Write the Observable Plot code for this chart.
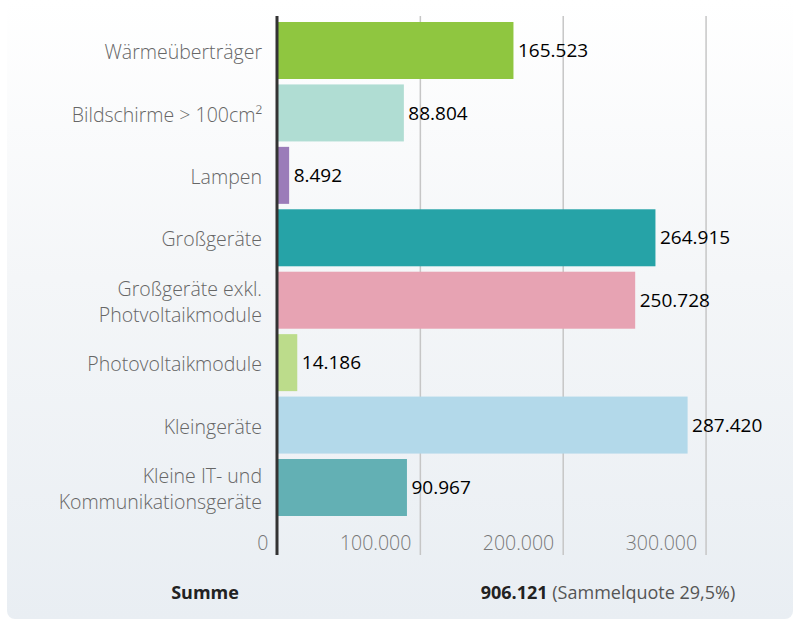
<!DOCTYPE html>
<html>
<head>
<meta charset="utf-8">
<script src="https://cdn.jsdelivr.net/npm/d3@7"></script>
<script src="https://cdn.jsdelivr.net/npm/@observablehq/plot@0.6"></script>
<style>
  body { margin: 0; background: #fff; font-family: "Open Sans", sans-serif; }
  #wrap { position: relative; width: 800px; height: 621px; }
  #bg { position: absolute; left: 7px; right: 7px; top: 0; bottom: 2px; border-radius: 0 0 8px 8px;
        background: linear-gradient(to bottom, #ffffff 0%, #f4f6f8 45%, #e9eef3 100%); }
  #chart { position: absolute; left: 0; top: 0; }
  .foot { position: absolute; top: 580px; font-size: 18px; white-space: nowrap; transform: translateX(-50%); }
  #sumLabel { left: 205px; font-weight: 700; color: #222; }
  #sumValue { left: 608px; color: #555; }
  #sumValue b { color: #222; }
</style>
</head>
<body>
<div id="wrap">
  <div id="bg"></div>
  <div id="chart"></div>
  <div class="foot" id="sumLabel"></div>
  <div class="foot" id="sumValue"></div>
</div>
<script>
const categories = [
  "Wärmeüberträger",
  "Bildschirme > 100cm²",
  "Lampen",
  "Großgeräte",
  "Großgeräte exkl.\nPhotvoltaikmodule",
  "Photovoltaikmodule",
  "Kleingeräte",
  "Kleine IT- und\nKommunikationsgeräte"
];
const values = [165523, 88804, 8492, 264915, 250728, 14186, 287420, 90967];
const colors = ["#8fc640", "#b0ddd3", "#9b7cb9", "#26a3a7", "#e7a3b3", "#bcdc8b", "#b3d9ea", "#63b0b4"];
const xTicks = [0, 100000, 200000, 300000];
const sumLabel = "Summe";
const sumValue = 906121;
const sumNote = "(Sammelquote 29,5%)";

const de = d3.formatLocale({decimal: ",", thousands: ".", grouping: [3], currency: ["", " €"]});
const fmt = de.format(",");

const data = categories.map((c, i) => ({category: c, value: values[i], color: colors[i]}));

const chart = Plot.plot({
  width: 800,
  height: 560,
  marginLeft: 277,
  marginRight: 23,
  marginTop: 16,
  marginBottom: 5,
  style: {fontFamily: "Open Sans, sans-serif", fontSize: "19px", background: "transparent"},
  x: {domain: [0, 350000], axis: null},
  y: {domain: categories, range: [22, 516], paddingInner: 0.087, paddingOuter: 0, round: false, axis: null},
  marks: [
    Plot.ruleX(xTicks.slice(1), {stroke: "#c6c6c6", strokeWidth: 1.5}),
    Plot.barX(data, {y: "category", x: "value", fill: "color"}),
    Plot.text(data, {y: "category", x: "value", text: d => fmt(d.value), textAnchor: "start", dx: 4, fill: "#000", fontSize: 19}),
    Plot.axisY({tickSize: 0, tickPadding: 15.5, fill: "#666", fontSize: 19.5, fontWeight: 300, lineHeight: 1.3, label: null}),
    Plot.text(xTicks, {x: d => d, text: d => fmt(d), frameAnchor: "bottom", lineAnchor: "bottom", dy: -6, dx: -9, textAnchor: "end", fill: "#777", fontSize: 19.5, fontWeight: 300}),
    Plot.ruleX([0], {stroke: "#333", strokeWidth: 3, dx: -0.5})
  ]
});
document.getElementById("chart").appendChild(chart);
document.getElementById("sumLabel").textContent = sumLabel;
document.getElementById("sumValue").innerHTML = "<b>" + fmt(sumValue) + "</b> " + sumNote;
</script>
</body>
</html>
